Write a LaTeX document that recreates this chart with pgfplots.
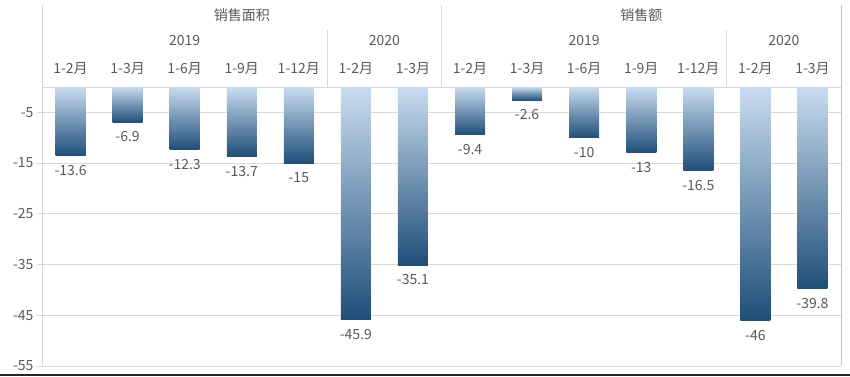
\documentclass[border=0pt]{standalone}
\usepackage{fontspec}
\setmainfont{Noto Sans CJK SC}
\usepackage{pgfplots}
\pgfplotsset{compat=1.18}
\definecolor{txt}{HTML}{595959}
\definecolor{grd}{HTML}{D9D9D9}
\definecolor{lite}{HTML}{C9DCEF}
\definecolor{dark}{HTML}{1F4E79}
\pgfplotsset{gbar/.style={ybar, bar width=30pt, bar shift=0pt, draw=none,
  top color=lite, bottom color=dark,
  point meta=y,
  nodes near coords={\pgfmathprintnumber[assume math mode=true]{\pgfplotspointmeta}},
  nodes near coords style={font=\fontsize{14}{16}\selectfont, text=txt, yshift=-6pt}}}
\begin{document}
\begin{tikzpicture}[font=\fontsize{14}{16}\selectfont, text=txt]
\useasboundingbox (-42pt,-10pt) rectangle (808pt,366pt);
\begin{axis}[
  at={(0,0)}, anchor=south west,
  scale only axis, width=799pt, height=279pt,
  xmin=-0.5, xmax=13.5, ymin=-55, ymax=0,
  clip=false,
  axis line style={draw=none},
  xtick=\empty,
  ytick={-55,-45,-35,-25,-15,-5},
  ytick pos=left,
  tick align=outside,
  major tick length=5pt,
  ytick style={grd, line width=0.8pt},
  ymajorgrids,
  grid style={grd, line width=0.8pt},
  /pgf/number format/assume math mode=true,
  yticklabel style={font=\fontsize{14}{16}\selectfont, text=txt},
]
\draw[grd, line width=0.8pt] (axis cs:-0.5,0) -- (axis cs:13.5,0);
\draw[grd, line width=0.8pt] ([yshift=82pt]axis cs:-0.5,0) -- (axis cs:-0.5,-55);
\draw[grd, line width=0.8pt] ([yshift=82pt]axis cs:6.5,0) -- (axis cs:6.5,0);
\draw[grd, line width=0.8pt] ([yshift=57pt]axis cs:4.5,0) -- (axis cs:4.5,0);
\draw[grd, line width=0.8pt] ([yshift=57pt]axis cs:11.5,0) -- (axis cs:11.5,0);
\draw[black!22, line width=0.8pt] ([yshift=82pt]axis cs:13.5,0) -- (axis cs:13.5,-55);

\addplot[gbar] coordinates {(0,-13.6)};
\addplot[gbar] coordinates {(1,-6.9)};
\addplot[gbar] coordinates {(2,-12.3)};
\addplot[gbar] coordinates {(3,-13.7)};
\addplot[gbar] coordinates {(4,-15)};
\addplot[gbar] coordinates {(5,-45.9)};
\addplot[gbar] coordinates {(6,-35.1)};
\addplot[gbar] coordinates {(7,-9.4)};
\addplot[gbar] coordinates {(8,-2.6)};
\addplot[gbar] coordinates {(9,-10)};
\addplot[gbar] coordinates {(10,-13)};
\addplot[gbar] coordinates {(11,-16.5)};
\addplot[gbar] coordinates {(12,-46)};
\addplot[gbar] coordinates {(13,-39.8)};

\node at ([yshift=72pt]axis cs:3,0) {销售面积};
\node at ([yshift=72pt]axis cs:10,0) {销售额};
\node at ([yshift=46pt]axis cs:2,0) {2019};
\node at ([yshift=46pt]axis cs:5.5,0) {2020};
\node at ([yshift=46pt]axis cs:9,0) {2019};
\node at ([yshift=46pt]axis cs:12.5,0) {2020};
\node at ([yshift=18pt]axis cs:0,0) {1-2月};
\node at ([yshift=18pt]axis cs:1,0) {1-3月};
\node at ([yshift=18pt]axis cs:2,0) {1-6月};
\node at ([yshift=18pt]axis cs:3,0) {1-9月};
\node at ([yshift=18pt]axis cs:4,0) {1-12月};
\node at ([yshift=18pt]axis cs:5,0) {1-2月};
\node at ([yshift=18pt]axis cs:6,0) {1-3月};
\node at ([yshift=18pt]axis cs:7,0) {1-2月};
\node at ([yshift=18pt]axis cs:8,0) {1-3月};
\node at ([yshift=18pt]axis cs:9,0) {1-6月};
\node at ([yshift=18pt]axis cs:10,0) {1-9月};
\node at ([yshift=18pt]axis cs:11,0) {1-12月};
\node at ([yshift=18pt]axis cs:12,0) {1-2月};
\node at ([yshift=18pt]axis cs:13,0) {1-3月};
\end{axis}
\draw[black!85, line width=1.5pt] (-42pt,-9pt) -- (808pt,-9pt);
\end{tikzpicture}
\end{document}
